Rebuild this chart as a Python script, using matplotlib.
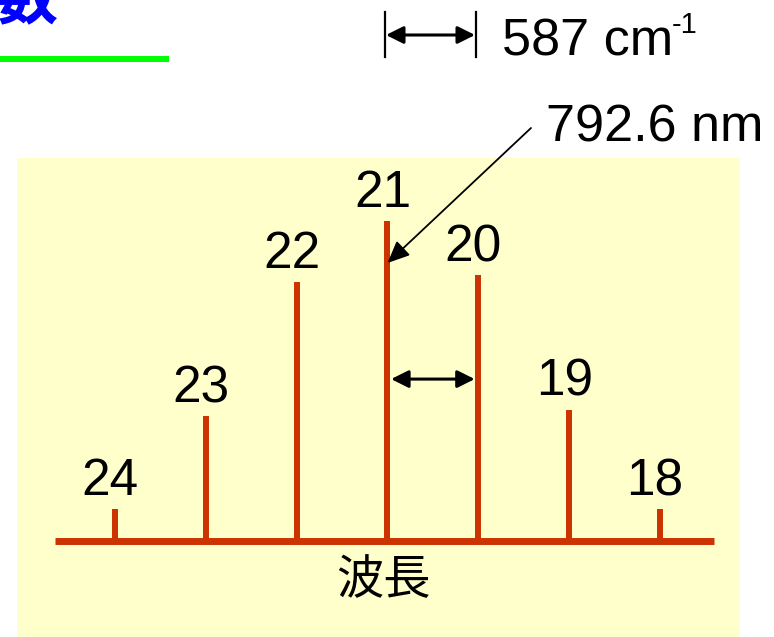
import matplotlib
matplotlib.use('Agg')
import matplotlib.pyplot as plt
from matplotlib import transforms
from matplotlib.patches import Rectangle

# ---- data ----
quantum_numbers = ['24', '23', '22', '21', '20', '19', '18']
intensities = [0.10, 0.39, 0.81, 1.00, 0.83, 0.41, 0.10]
axis_label = '波長'
wavelength_label = '792.6 nm'
spacing_label = '587 cm'
spacing_sup = '-1'
title_fragment = '数'

W, H = 774, 637
fig = plt.figure(figsize=(W / 100, H / 100), dpi=100)
fig.patch.set_facecolor('white')
# pixel coordinate transform (origin top-left)
pix = transforms.Affine2D().scale(1 / W, -1 / H).translate(0, 1) + fig.transFigure

ax = fig.add_axes([0, 0, 1, 1])
ax.set_axis_off()
x0, dx = 115, 90.83
y0, sy = 541, 320
ax.set_xlim(-x0 / dx, (W - x0) / dx)
ax.set_ylim(-(H - y0) / sy, y0 / sy)

RED = '#CC3300'
num_font = 'Liberation Sans'
cjk_font = ['Noto Sans CJK JP', 'DejaVu Sans']

# yellow panel
ax.add_patch(Rectangle((17, 158), 723, 479, transform=pix, facecolor='#FFFFCC',
                       edgecolor='none', zorder=0))

xs = list(range(len(quantum_numbers)))
# baseline
bl = ax.hlines(0, -0.66, 6.595, colors=RED, lw=5.0, zorder=2)
bl.set_capstyle('butt')
# lines
vl = ax.vlines(xs, 0, intensities, colors=RED, lw=4.3, zorder=2)
vl.set_capstyle('butt')

# labels above lines
lab_tr = transforms.offset_copy(ax.transData, fig=fig, x=-3.5, y=10.0, units='points')
for x, v, q in zip(xs, intensities, quantum_numbers):
    ax.text(x, v, q, transform=lab_tr, ha='center', va='baseline',
            fontsize=37, family=num_font, color='black', zorder=3)

# spacing arrow between lines 21 and 20
ia = quantum_numbers.index('21')
ib = quantum_numbers.index('20')
va_ = 0.506
ax.annotate('', xy=(xs[ib], va_), xytext=(xs[ia], va_),
            arrowprops=dict(arrowstyle='<|-|>,head_length=0.7,head_width=0.35',
                            lw=2.2, color='black', shrinkA=2.6, shrinkB=2.6,
                            mutation_scale=15), zorder=4)

# wavelength pointer arrow
ax.annotate('', xy=(xs[ia], (y0 - 263) / sy), xytext=(531, 128),
            textcoords=pix,
            arrowprops=dict(arrowstyle='-|>,head_length=0.9,head_width=0.4',
                            lw=1.3, color='black', shrinkA=0, shrinkB=0,
                            mutation_scale=15), zorder=4)
fig.text(546, 142, wavelength_label, transform=pix, ha='left', va='baseline',
         fontsize=37.5, family=num_font, color='black')

# top scale indicator
fig.add_artist(plt.Line2D([385, 385], [12, 57], transform=pix, color='black', lw=1.6))
fig.add_artist(plt.Line2D([476, 476], [12, 57], transform=pix, color='black', lw=1.6))
ax.annotate('', xy=(475, 35), xytext=(386, 35), xycoords=pix, textcoords=pix,
            arrowprops=dict(arrowstyle='<|-|>,head_length=0.7,head_width=0.35',
                            lw=2.2, color='black', shrinkA=0, shrinkB=0,
                            mutation_scale=15), zorder=4)
fig.text(502, 55, spacing_label, transform=pix, ha='left', va='baseline',
         fontsize=37.5, family=num_font, color='black')
fig.text(672, 33, spacing_sup, transform=pix, ha='left', va='baseline',
         fontsize=21, family=num_font, color='black')

# axis label
fig.text(383, 594, axis_label, transform=pix, ha='center', va='baseline',
         fontsize=34, family=cjk_font, color='black')

# clipped title fragment and green underline
fig.text(-3, 18, title_fragment, transform=pix, ha='left', va='baseline',
         fontsize=44, family=cjk_font, color='#0000FF', fontweight='bold')
fig.add_artist(plt.Line2D([0, 169], [59, 59], transform=pix, color='#00FF00',
                          lw=4.3, solid_capstyle='butt'))

fig.savefig('out.png', dpi=100, facecolor='white')
